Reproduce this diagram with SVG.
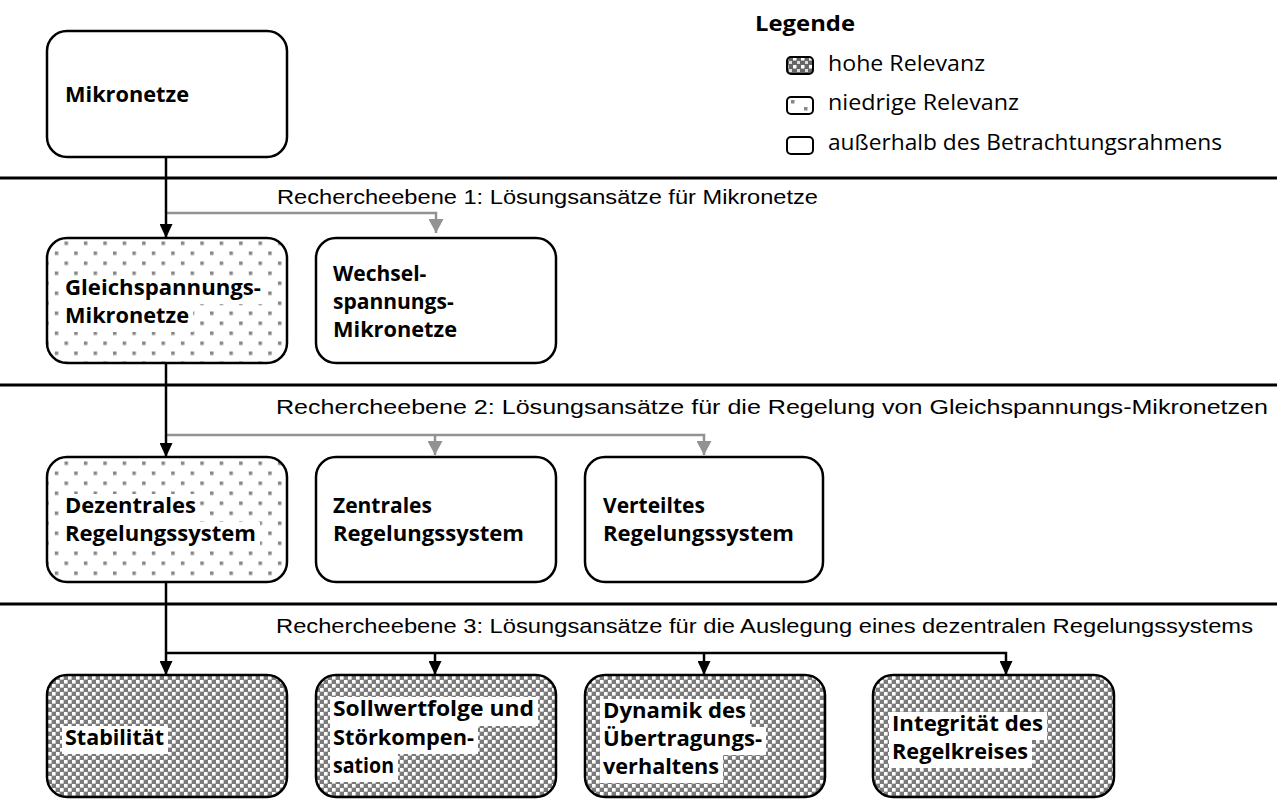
<svg xmlns="http://www.w3.org/2000/svg" width="1277" height="800" viewBox="0 0 1277 800">
<style>
.box{stroke:#000;stroke-width:2.5}
.bl{font-family:"Open Sans","Noto Sans","DejaVu Sans",sans-serif;font-weight:700;font-size:21px;fill:#000}
.lg{font-family:"Open Sans","Noto Sans","DejaVu Sans",sans-serif;font-size:21.5px;fill:#000}
.lv{font-family:"Liberation Sans",Arial,sans-serif;font-size:20.5px;fill:#000}
.sep{stroke:#000;stroke-width:3}
.cb{stroke:#000;stroke-width:2.5;fill:none}
.cg{stroke:#929292;stroke-width:2.5;fill:none}
.bg{fill:#fff}
</style>
<defs>
<pattern id="hi" width="8" height="8" patternUnits="userSpaceOnUse">
<rect width="8" height="8" fill="#7a7a7a"/>
<rect x="0" y="0" width="3.6" height="3.6" fill="#fff"/>
<rect x="4" y="4" width="3.6" height="3.6" fill="#fff"/>
</pattern>
<pattern id="hiS" width="8" height="8" patternUnits="userSpaceOnUse">
<rect width="8" height="8" fill="#666"/>
<rect x="1" y="1" width="3.5" height="3.5" fill="#fff"/>
<rect x="5" y="5" width="3" height="3" fill="#ddd"/>
</pattern>
<pattern id="lo" x="64.5" y="241.5" width="19.4" height="20" patternUnits="userSpaceOnUse">
<rect width="19.4" height="20" fill="#fff"/>
<rect x="0" y="0" width="3.5" height="3.5" fill="#868686"/>
<rect x="9.7" y="10" width="3.5" height="3.5" fill="#868686"/>
</pattern>
<marker id="ab" viewBox="0 0 14 13" refX="14" refY="6.5" markerWidth="14" markerHeight="13" markerUnits="userSpaceOnUse" orient="auto">
<path d="M0,0 L14,6.5 L0,13 z" fill="#000"/>
</marker>
<marker id="ag" viewBox="0 0 14 15" refX="14" refY="7.5" markerWidth="14" markerHeight="15" markerUnits="userSpaceOnUse" orient="auto">
<path d="M0,0 L14,7.5 L0,15 z" fill="#929292"/>
</marker>
</defs>
<rect width="1277" height="800" fill="#fff"/>

<g id="separators">
<line class="sep" x1="0" y1="178" x2="1277" y2="178"/>
<line class="sep" x1="0" y1="385" x2="1277" y2="385"/>
<line class="sep" x1="0" y1="604" x2="1277" y2="604"/>
<text class="lv" x="277" y="204" textLength="541" lengthAdjust="spacingAndGlyphs">Rechercheebene 1: Lösungsansätze für Mikronetze</text>
<text class="lv" x="276" y="414" textLength="992" lengthAdjust="spacingAndGlyphs">Rechercheebene 2: Lösungsansätze für die Regelung von Gleichspannungs-Mikronetzen</text>
<text class="lv" x="276" y="633" textLength="977" lengthAdjust="spacingAndGlyphs">Rechercheebene 3: Lösungsansätze für die Auslegung eines dezentralen Regelungssystems</text>
</g>

<g id="connectors">
<path class="cg" d="M166,213 H436 V233" marker-end="url(#ag)"/>
<path class="cb" d="M166,157 V238" marker-end="url(#ab)"/>
<path class="cg" d="M166,435 H704 V455" marker-end="url(#ag)"/>
<path class="cg" d="M435,435 V455" marker-end="url(#ag)"/>
<path class="cb" d="M166,363 V457" marker-end="url(#ab)"/>
<path class="cb" d="M166,582 V675" marker-end="url(#ab)"/>
<path class="cb" d="M166,653 H1006 V675" marker-end="url(#ab)"/>
<path class="cb" d="M435,653 V675" marker-end="url(#ab)"/>
<path class="cb" d="M704,653 V675" marker-end="url(#ab)"/>
</g>

<g id="legend">
<text class="lg" x="755" y="31" font-weight="700" textLength="100" lengthAdjust="spacingAndGlyphs">Legende</text>
<rect x="787" y="57" width="26" height="17" rx="4" fill="url(#hiS)" stroke="#000" stroke-width="2"/>
<text class="lg" x="828" y="71" textLength="157" lengthAdjust="spacingAndGlyphs">hohe Relevanz</text>
<rect x="787" y="97" width="26" height="17" rx="4" fill="#fff" stroke="#000" stroke-width="2"/>
<rect x="791" y="100" width="3.5" height="3.5" fill="#868686"/>
<rect x="804" y="107" width="3.5" height="3.5" fill="#868686"/>
<text class="lg" x="828" y="110" textLength="191" lengthAdjust="spacingAndGlyphs">niedrige Relevanz</text>
<rect x="787" y="137" width="26" height="17" rx="4" fill="#fff" stroke="#000" stroke-width="2"/>
<text class="lg" x="828" y="150" textLength="394" lengthAdjust="spacingAndGlyphs">außerhalb des Betrachtungsrahmens</text>
</g>

<g id="n-mikronetze">
<rect class="box" x="47" y="31" width="240" height="126" rx="20" fill="#fff"/>
<text class="bl" x="65" y="102" textLength="124" lengthAdjust="spacingAndGlyphs">Mikronetze</text>
</g>

<g id="n-gleich">
<rect class="box" x="47" y="238" width="240" height="125" rx="20" fill="url(#lo)"/>
<rect class="bg" x="62" y="276" width="203" height="28"/>
<rect class="bg" x="62" y="304" width="131" height="28"/>
<text class="bl" x="65" y="295" textLength="196" lengthAdjust="spacingAndGlyphs">Gleichspannungs-</text>
<text class="bl" x="65" y="323" textLength="124" lengthAdjust="spacingAndGlyphs">Mikronetze</text>
</g>

<g id="n-wechsel">
<rect class="box" x="316" y="238" width="240" height="125" rx="20" fill="#fff"/>
<text class="bl" x="333" y="281">Wechsel-</text>
<text class="bl" x="333" y="309">spannungs-</text>
<text class="bl" x="333" y="337" textLength="124" lengthAdjust="spacingAndGlyphs">Mikronetze</text>
</g>

<g id="n-dezentral">
<rect class="box" x="47" y="457" width="240" height="125" rx="20" fill="url(#lo)"/>
<rect class="bg" x="62" y="494" width="138" height="28"/>
<rect class="bg" x="62" y="522" width="198" height="28"/>
<text class="bl" x="65" y="513" textLength="131" lengthAdjust="spacingAndGlyphs">Dezentrales</text>
<text class="bl" x="65" y="541" textLength="191" lengthAdjust="spacingAndGlyphs">Regelungssystem</text>
</g>

<g id="n-zentral">
<rect class="box" x="316" y="457" width="240" height="125" rx="20" fill="#fff"/>
<text class="bl" x="333" y="513">Zentrales</text>
<text class="bl" x="333" y="541" textLength="191" lengthAdjust="spacingAndGlyphs">Regelungssystem</text>
</g>

<g id="n-verteilt">
<rect class="box" x="585" y="457" width="238" height="125" rx="20" fill="#fff"/>
<text class="bl" x="603" y="513">Verteiltes</text>
<text class="bl" x="603" y="541" textLength="191" lengthAdjust="spacingAndGlyphs">Regelungssystem</text>
</g>

<g id="n-stabilitaet">
<rect class="box" x="47" y="675" width="240" height="122" rx="20" fill="url(#hi)"/>
<rect class="bg" x="62" y="726" width="106" height="28"/>
<text class="bl" x="65" y="745" textLength="99" lengthAdjust="spacingAndGlyphs">Stabilität</text>
</g>

<g id="n-sollwert">
<rect class="box" x="316" y="675" width="240" height="122" rx="20" fill="url(#hi)"/>
<rect class="bg" x="330" y="697" width="208" height="29"/>
<rect class="bg" x="330" y="726" width="148" height="28"/>
<rect class="bg" x="330" y="754" width="68" height="28"/>
<text class="bl" x="333" y="716" textLength="201" lengthAdjust="spacingAndGlyphs">Sollwertfolge und</text>
<text class="bl" x="333" y="745" textLength="141" lengthAdjust="spacingAndGlyphs">Störkompen-</text>
<text class="bl" x="333" y="773" textLength="61" lengthAdjust="spacingAndGlyphs">sation</text>
</g>

<g id="n-dynamik">
<rect class="box" x="585" y="675" width="240" height="122" rx="20" fill="url(#hi)"/>
<rect class="bg" x="600" y="699" width="150" height="28"/>
<rect class="bg" x="600" y="727" width="166" height="28"/>
<rect class="bg" x="600" y="755" width="123" height="28"/>
<text class="bl" x="603" y="718" textLength="143" lengthAdjust="spacingAndGlyphs">Dynamik des</text>
<text class="bl" x="603" y="746" textLength="159" lengthAdjust="spacingAndGlyphs">Übertragungs-</text>
<text class="bl" x="603" y="774" textLength="116" lengthAdjust="spacingAndGlyphs">verhaltens</text>
</g>

<g id="n-integritaet">
<rect class="box" x="873" y="675" width="241" height="122" rx="20" fill="url(#hi)"/>
<rect class="bg" x="889" y="712" width="158" height="28"/>
<rect class="bg" x="889" y="740" width="143" height="28"/>
<text class="bl" x="892" y="731" textLength="151" lengthAdjust="spacingAndGlyphs">Integrität des</text>
<text class="bl" x="892" y="759" textLength="136" lengthAdjust="spacingAndGlyphs">Regelkreises</text>
</g>
</svg>
